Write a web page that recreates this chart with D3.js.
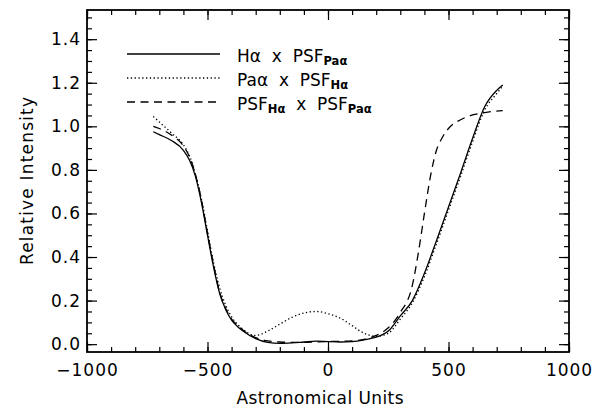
<!DOCTYPE html>
<html lang="en">
<head>
<meta charset="utf-8">
<script src="https://cdn.jsdelivr.net/npm/d3@7"></script>
<style>
  body { margin: 0; background: #fff; }
  text { font-family: "DejaVu Sans", Verdana, sans-serif; fill: #000; }
</style>
</head>
<body>
<div id="chart"></div>
<script>
// values
let xTicks = [-1000, -500, 0, 500, 1000]
let yTicks = [0, 0.2, 0.4, 0.6, 0.8, 1.0, 1.2, 1.4]

// H-alpha x PSF(Pa-alpha)  (solid)
let solidX = [-725, -700, -650, -600, -575, -550, -525, -500, -475, -450, -425, -400, -375, -350, -300, -250, -200, -150, -100, -50, 0, 50, 100, 150, 200, 250, 300, 350, 400, 450, 500, 550, 600, 650, 700, 725]
let solidY = [0.975, 0.962, 0.935, 0.89, 0.845, 0.77, 0.65, 0.50, 0.355, 0.235, 0.16, 0.11, 0.08, 0.058, 0.025, 0.008, 0.004, 0.006, 0.01, 0.014, 0.012, 0.01, 0.012, 0.02, 0.032, 0.06, 0.13, 0.2, 0.325, 0.475, 0.63, 0.785, 0.945, 1.09, 1.165, 1.19]

// Pa-alpha x PSF(H-alpha)  (dotted)
let dotX = [-725, -700, -650, -600, -575, -550, -525, -500, -475, -450, -425, -400, -375, -350, -325, -300, -250, -200, -150, -100, -50, 0, 50, 100, 150, 200, 250, 300, 350, 400, 450, 500, 550, 600, 650, 700, 725]
let dotY = [1.045, 1.02, 0.97, 0.915, 0.865, 0.78, 0.665, 0.52, 0.375, 0.26, 0.18, 0.125, 0.09, 0.066, 0.047, 0.04, 0.06, 0.092, 0.123, 0.143, 0.15, 0.14, 0.12, 0.085, 0.05, 0.036, 0.05, 0.115, 0.19, 0.31, 0.46, 0.615, 0.77, 0.93, 1.075, 1.15, 1.185]

// PSF(H-alpha) x PSF(Pa-alpha)  (dashed)
let dashX = [-725, -700, -650, -600, -575, -550, -525, -500, -475, -450, -425, -400, -375, -350, -300, -250, -200, -150, -100, -50, 0, 50, 100, 150, 200, 250, 300, 350, 375, 400, 425, 450, 475, 500, 550, 600, 650, 700, 725]
let dashY = [1.0, 0.99, 0.96, 0.91, 0.86, 0.78, 0.66, 0.51, 0.365, 0.24, 0.165, 0.115, 0.085, 0.062, 0.03, 0.015, 0.01, 0.008, 0.008, 0.01, 0.012, 0.013, 0.015, 0.022, 0.04, 0.075, 0.145, 0.27, 0.42, 0.6, 0.77, 0.89, 0.95, 0.99, 1.03, 1.052, 1.063, 1.07, 1.072]

let w = 608
let h = 411
let padL = 87, padR = 569, padT = 10, padB = 352
let font = '"DejaVu Sans", Verdana, sans-serif'

let svg = d3.select('#chart')
            .append('svg')
            .attr('width', w)
            .attr('height', h)

let x = d3.scaleLinear().domain([-1000, 1000]).range([padL, padR])
let y = d3.scaleLinear().domain([-0.036, 1.534]).range([padB, padT])

let minorX = d3.range(-1000, 1001, 100)
let minorY = d3.range(0, 1.51, 0.05)

// bottom axis with labels, ticks pointing inwards
svg.append('g')
   .attr('transform', 'translate(0,' + padB + ')')
   .call(d3.axisBottom(x).tickValues(xTicks).tickSizeInner(-10).tickSizeOuter(0).tickPadding(12)
          .tickFormat(function(d) { return d < 0 ? '\u2212' + Math.abs(d) : d }))
   .call(function(g) { g.select('.domain').remove() })
   .selectAll('text').attr('font-size', 17).style('font-family', font).style('letter-spacing', '1px')
svg.append('g')
   .attr('transform', 'translate(0,' + padB + ')')
   .call(d3.axisBottom(x).tickValues(minorX).tickSize(-5).tickFormat(''))
   .call(function(g) { g.select('.domain').remove() })

// top axis, ticks only
svg.append('g')
   .attr('transform', 'translate(0,' + padT + ')')
   .call(d3.axisTop(x).tickValues(xTicks).tickSize(-10).tickFormat(''))
   .call(function(g) { g.select('.domain').remove() })
svg.append('g')
   .attr('transform', 'translate(0,' + padT + ')')
   .call(d3.axisTop(x).tickValues(minorX).tickSize(-5).tickFormat(''))
   .call(function(g) { g.select('.domain').remove() })

// left axis with labels
svg.append('g')
   .attr('transform', 'translate(' + padL + ',0)')
   .call(d3.axisLeft(y).tickValues(yTicks).tickSizeInner(-10).tickSizeOuter(0).tickPadding(6)
          .tickFormat(d3.format('.1f')))
   .call(function(g) { g.select('.domain').remove() })
   .selectAll('text').attr('font-size', 17).style('font-family', font).style('letter-spacing', '1px')
svg.append('g')
   .attr('transform', 'translate(' + padL + ',0)')
   .call(d3.axisLeft(y).tickValues(minorY).tickSize(-5).tickFormat(''))
   .call(function(g) { g.select('.domain').remove() })

// right axis, ticks only
svg.append('g')
   .attr('transform', 'translate(' + padR + ',0)')
   .call(d3.axisRight(y).tickValues(yTicks).tickSize(-10).tickFormat(''))
   .call(function(g) { g.select('.domain').remove() })
svg.append('g')
   .attr('transform', 'translate(' + padR + ',0)')
   .call(d3.axisRight(y).tickValues(minorY).tickSize(-5).tickFormat(''))
   .call(function(g) { g.select('.domain').remove() })

svg.selectAll('.tick line').attr('stroke', '#000').attr('stroke-width', 1.2)

// plot frame
svg.append('rect')
   .attr('x', padL)
   .attr('y', padT)
   .attr('width', padR - padL)
   .attr('height', padB - padT)
   .attr('fill', 'none')
   .attr('stroke', '#000')
   .attr('stroke-width', 1.8)

// axis titles
svg.append('text')
   .attr('x', 320)
   .attr('y', 404)
   .attr('text-anchor', 'middle')
   .attr('font-size', 17)
   .attr('textLength', 167)
   .attr('lengthAdjust', 'spacing')
   .text('Astronomical Units')

svg.append('text')
   .attr('transform', 'translate(33,181) rotate(-90)')
   .attr('text-anchor', 'middle')
   .attr('font-size', 17)
   .attr('textLength', 168)
   .attr('lengthAdjust', 'spacing')
   .text('Relative Intensity')

// curves
let line = d3.line()
             .x(function(d) { return x(d[0]) })
             .y(function(d) { return y(d[1]) })
             .curve(d3.curveMonotoneX)

let series = [
   {xs: solidX, ys: solidY, dash: null},
   {xs: dotX, ys: dotY, dash: '1.3,2.5'},
   {xs: dashX, ys: dashY, dash: '8,5.5'}
]

svg.selectAll('path.curve')
   .data(series)
   .enter()
   .append('path')
   .attr('class', 'curve')
   .attr('d', function(d) { return line(d3.zip(d.xs, d.ys)) })
   .attr('fill', 'none')
   .attr('stroke', '#000')
   .attr('stroke-width', 1.3)
   .attr('stroke-dasharray', function(d) { return d.dash })

// legend
let legendRows = [
   {main: 'H\u03b1  x  PSF', sub: 'Pa\u03b1', tail: '', tailSub: '', dash: null},
   {main: 'Pa\u03b1  x  PSF', sub: 'H\u03b1', tail: '', tailSub: '', dash: '1.3,2.5'},
   {main: 'PSF', sub: 'H\u03b1', tail: '  x  PSF', tailSub: 'Pa\u03b1', dash: '8,5.5'}
]

let legend = svg.selectAll('g.legend')
                .data(legendRows)
                .enter()
                .append('g')
                .attr('class', 'legend')
                .attr('transform', function(d, i) { return 'translate(0,' + (54 + i * 24) + ')' })

legend.append('line')
      .attr('x1', 127)
      .attr('x2', 220)
      .attr('stroke', '#000')
      .attr('stroke-width', 1.3)
      .attr('stroke-dasharray', function(d) { return d.dash })

let lt = legend.append('text')
               .attr('x', 237)
               .attr('y', 7.5)
               .attr('font-size', 17)
               .style('white-space', 'pre')

lt.append('tspan').text(function(d) { return d.main })
lt.append('tspan')
  .attr('dy', 3)
  .attr('font-size', 11.5)
  .attr('font-weight', 'bold')
  .text(function(d) { return d.sub })
lt.append('tspan')
  .attr('dy', -3)
  .text(function(d) { return d.tail })
lt.append('tspan')
  .attr('dy', 3)
  .attr('font-size', 11.5)
  .attr('font-weight', 'bold')
  .text(function(d) { return d.tailSub })
</script>
</body>
</html>
